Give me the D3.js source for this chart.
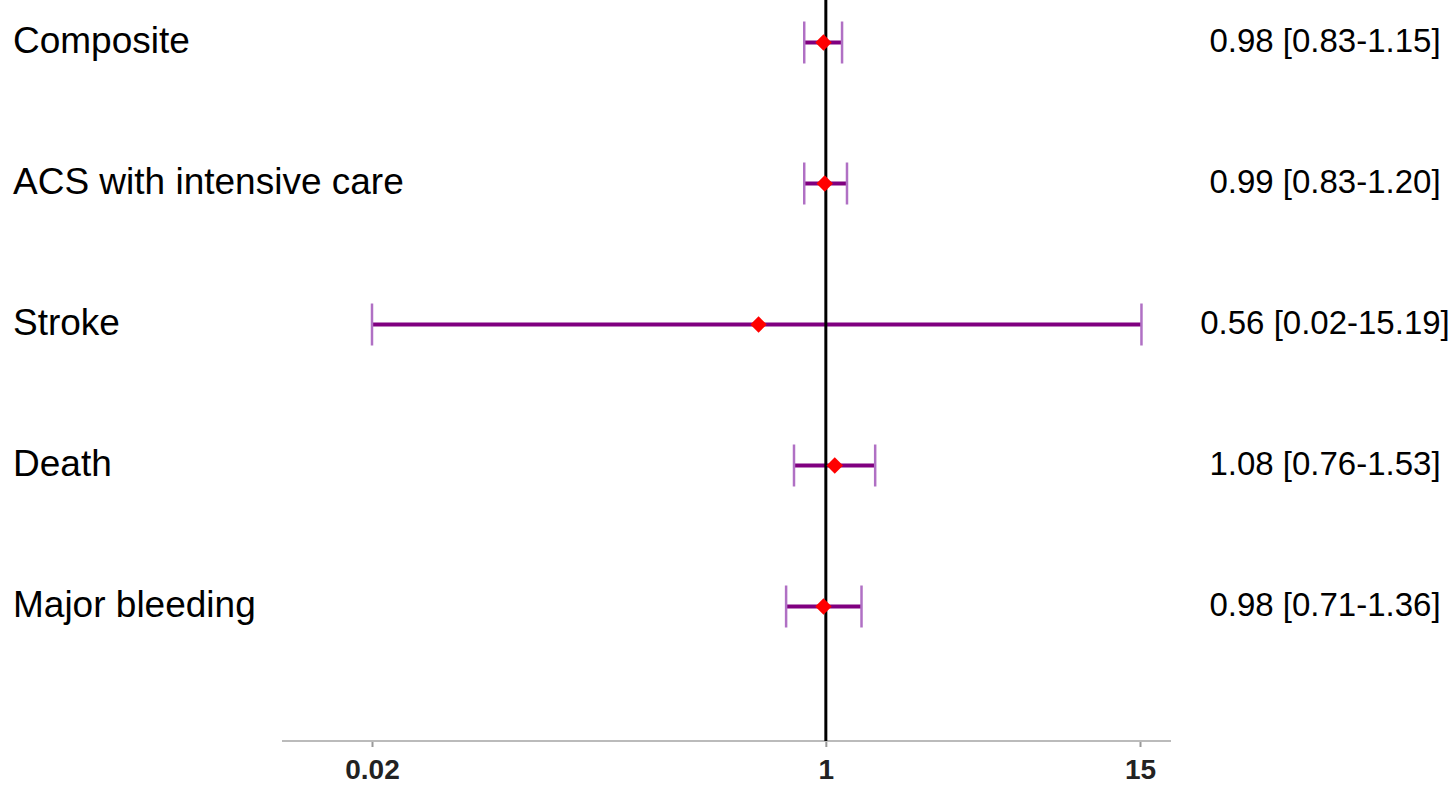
<!DOCTYPE html>
<html>
<head>
    <meta charset="utf-8">
    <style>
        body { margin: 0; background: white; }
        .label { font-family: "Liberation Sans", Arial, sans-serif; font-size: 37px; fill: black; }
        .ci { font-family: "Liberation Sans", Arial, sans-serif; font-size: 33px; fill: black; }
        .tick text { font-family: "Liberation Sans", Arial, sans-serif; font-size: 28px; font-weight: bold; fill: #222; }
    </style>
</head>
<body>
<svg width="1456" height="788"></svg>
<script src="https://d3js.org/d3.v7.min.js"></script>
<script>
    // data
    let outcomes = ["Composite", "ACS with intensive care", "Stroke", "Death", "Major bleeding"]
    let estimates = [0.98, 0.99, 0.56, 1.08, 0.98]
    let lower = [0.83, 0.83, 0.02, 0.76, 0.71]
    let upper = [1.15, 1.20, 15.19, 1.53, 1.36]
    let ciText = ["0.98 [0.83-1.15]", "0.99 [0.83-1.20]", "0.56 [0.02-15.19]", "1.08 [0.76-1.53]", "0.98 [0.71-1.36]"]
    let tickValues = [0.02, 1, 15]

    let rows = outcomes.map((d, i) => ({
        name: d, est: estimates[i], lo: lower[i], hi: upper[i], txt: ciText[i]
    }))

    let svg = d3.select("svg")

    let x = d3.scaleLog()
        .domain([0.02, 15])
        .range([372, 1140])

    let y = d3.scaleBand()
        .domain(outcomes.concat([""]))
        .range([-28, 818])

    let cy = d => y(d) + y.bandwidth() / 2

    // axis
    let axis = svg.append("g")
        .attr("transform", "translate(0,741)")
        .call(d3.axisBottom(x).tickValues(tickValues).tickFormat(d3.format("")).tickSize(6).tickPadding(12))
    axis.select(".domain").remove()
    axis.selectAll(".tick line").attr("stroke", "#999").attr("stroke-width", 2)
    axis.append("line")
        .attr("x1", 282).attr("x2", 1171)
        .attr("y1", 0).attr("y2", 0)
        .attr("stroke", "#bbb")
        .attr("stroke-width", 2)

    let g = svg.selectAll(".row")
        .data(rows)
        .join("g")
        .attr("class", "row")

    g.append("line")
        .attr("x1", d => x(d.lo)).attr("x2", d => x(d.hi))
        .attr("y1", d => cy(d.name)).attr("y2", d => cy(d.name))
        .attr("stroke", "#800080")
        .attr("stroke-width", 4)

    g.selectAll(".cap")
        .data(d => [{ v: d.lo, n: d.name }, { v: d.hi, n: d.name }])
        .join("line")
        .attr("x1", d => x(d.v)).attr("x2", d => x(d.v))
        .attr("y1", d => cy(d.n) - 21).attr("y2", d => cy(d.n) + 21)
        .attr("stroke", "#b070c4")
        .attr("stroke-width", 2.5)

    // reference line drawn over whiskers
    svg.append("line")
        .attr("x1", x(1)).attr("x2", x(1))
        .attr("y1", 0).attr("y2", 741)
        .attr("stroke", "black")
        .attr("stroke-width", 3)

    svg.selectAll(".pt")
        .data(rows)
        .join("path")
        .attr("d", d3.symbol().type(d3.symbolSquare).size(135))
        .attr("transform", d => `translate(${x(d.est)},${cy(d.name)}) rotate(45)`)
        .attr("fill", "red")

    svg.selectAll(".label")
        .data(rows)
        .join("text")
        .attr("class", "label")
        .attr("x", 13)
        .attr("y", d => cy(d.name) + 10)
        .text(d => d.name)

    svg.selectAll(".ci")
        .data(rows)
        .join("text")
        .attr("class", "ci")
        .attr("x", 1325)
        .attr("y", d => cy(d.name) + 9)
        .attr("text-anchor", "middle")
        .text(d => d.txt)
</script>
</body>
</html>
